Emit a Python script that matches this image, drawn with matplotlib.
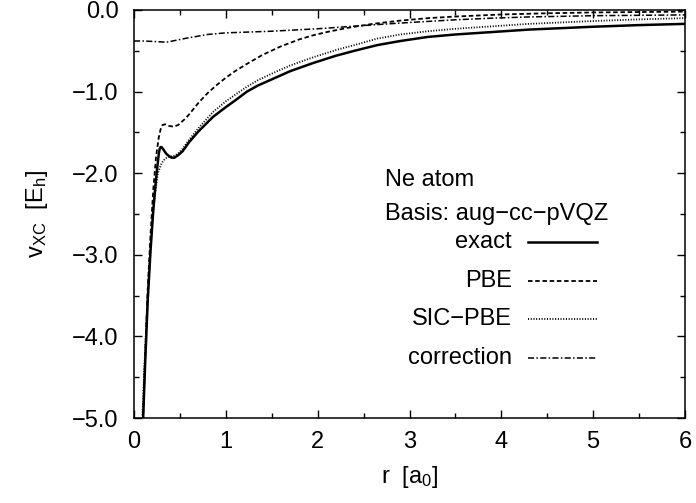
import matplotlib
matplotlib.use("Agg")
import matplotlib.pyplot as plt
from matplotlib.lines import Line2D
from matplotlib.ticker import MultipleLocator, FuncFormatter

plt.rcParams['font.family'] = ['Liberation Sans', 'DejaVu Sans']
plt.rcParams['mathtext.fontset'] = 'custom'
plt.rcParams['mathtext.rm'] = 'Liberation Sans'
plt.rcParams['mathtext.it'] = 'Liberation Sans'

# ==== Data ====
r_exact = [0.09, 0.12, 0.15, 0.18, 0.21, 0.24, 0.27, 0.28, 0.29, 0.30, 0.32, 0.35,
           0.38, 0.41, 0.44, 0.48, 0.53, 0.60, 0.70, 0.86, 1.00, 1.10, 1.23, 1.35,
           1.50, 1.70, 1.95, 2.20, 2.40, 2.65, 2.90, 3.20, 3.50, 3.90, 4.30, 4.70,
           5.00, 5.50, 6.00]
v_exact = [-5.30, -4.37, -3.55, -2.95, -2.45, -2.07, -1.76, -1.70, -1.68, -1.68, -1.71, -1.76,
           -1.79, -1.81, -1.81, -1.78, -1.73, -1.62, -1.49, -1.31, -1.19, -1.11, -1.00, -0.925,
           -0.85, -0.75, -0.65, -0.56, -0.50, -0.43, -0.38, -0.33, -0.30, -0.27, -0.24, -0.22,
           -0.205, -0.185, -0.17]

r_pbe = [0.09, 0.12, 0.15, 0.18, 0.21, 0.24, 0.27, 0.29, 0.31, 0.34, 0.38, 0.43,
         0.48, 0.55, 0.60, 0.70, 0.80, 0.90, 1.00, 1.10, 1.23, 1.40, 1.59, 1.80,
         1.95, 2.10, 2.32, 2.60, 2.90, 3.20, 3.50, 4.00, 4.50, 5.00, 6.00]
v_pbe = [-5.30, -4.30, -3.40, -2.75, -2.20, -1.80, -1.56, -1.46, -1.41, -1.40, -1.42, -1.43,
         -1.41, -1.34, -1.28, -1.14, -1.02, -0.92, -0.83, -0.75, -0.66, -0.55, -0.45, -0.36,
         -0.31, -0.27, -0.22, -0.17, -0.13, -0.10, -0.08, -0.055, -0.04, -0.03, -0.02]

r_sic = [0.08, 0.11, 0.14, 0.17, 0.20, 0.23, 0.26, 0.30, 0.34, 0.38, 0.43, 0.48,
         0.53, 0.60, 0.70, 0.86, 1.00, 1.10, 1.23, 1.35, 1.50, 1.70, 1.95, 2.20,
         2.40, 2.65, 2.90, 3.20, 3.50, 3.90, 4.30, 4.70, 5.00, 5.50, 6.00]
v_sic = [-5.30, -4.45, -3.70, -3.10, -2.60, -2.25, -2.00, -1.88, -1.82, -1.80, -1.79, -1.76,
         -1.70, -1.59, -1.45, -1.25, -1.12, -1.04, -0.94, -0.86, -0.78, -0.68, -0.58, -0.49,
         -0.43, -0.35, -0.30, -0.26, -0.23, -0.20, -0.17, -0.15, -0.135, -0.115, -0.10]

r_corr = [0.00, 0.10, 0.20, 0.28, 0.35, 0.42, 0.55, 0.65, 0.80, 1.00, 1.25, 1.50,
          1.75, 2.00, 2.25, 2.50, 2.70, 2.90, 3.20, 3.50, 3.90, 4.30, 5.00, 6.00]
v_corr = [-0.38, -0.38, -0.385, -0.39, -0.395, -0.38, -0.35, -0.33, -0.30, -0.28, -0.27, -0.26,
          -0.245, -0.23, -0.21, -0.19, -0.175, -0.16, -0.14, -0.12, -0.10, -0.085, -0.07, -0.06]

labels = ["exact", "PBE", "SIC\u2212PBE", "correction"]
system_text = ["Ne atom", "Basis: aug\u2212cc\u2212pVQZ"]

# ==== Styles ====
styles = [
    dict(color='k', lw=1.8, ls='-'),
    dict(color='k', lw=1.3, ls=(0, (2.5, 1.5))),
    dict(color='k', lw=1.3, ls=(0, (0.6, 0.9))),
    dict(color='k', lw=1.1, ls=(0, (4, 1.5, 1, 1.5))),
]
FS = 17

fig = plt.figure(figsize=(6.96, 5.03), dpi=100)
ax = fig.add_axes([134 / 696, 85 / 503, 551 / 696, 408 / 503])

series = [(r_exact, v_exact), (r_pbe, v_pbe), (r_sic, v_sic), (r_corr, v_corr)]
for (rr, vv), st in zip(series, styles):
    ax.plot(rr, vv, **st)

ax.set_xlim(0, 6)
ax.set_ylim(-5, 0)
ax.xaxis.set_major_locator(MultipleLocator(1))
ax.xaxis.set_minor_locator(MultipleLocator(0.5))
ax.yaxis.set_major_locator(MultipleLocator(1))
ax.yaxis.set_minor_locator(MultipleLocator(0.5))
ax.xaxis.set_major_formatter(FuncFormatter(lambda v, p: f"{v:.0f}"))
ax.yaxis.set_major_formatter(FuncFormatter(lambda v, p: f"{v:.1f}".replace('-', '\u2212')))
ax.tick_params(which='both', direction='in', top=True, right=True, labelsize=FS, width=1)
ax.tick_params(which='major', length=6)
ax.tick_params(which='minor', length=3.5)
ax.tick_params(axis='x', which='major', pad=9)
ax.tick_params(axis='y', which='major', pad=11)
for s in ax.spines.values():
    s.set_linewidth(1.1)

ax.set_xlabel(r"r  [a$_{\mathrm{0}}$]", fontsize=FS, labelpad=8)
ax.set_ylabel(r"v$_{\mathrm{XC}}$  [E$_{\mathrm{h}}$]", fontsize=FS, labelpad=16)

# annotation
ax.text(0.4555, 0.583, system_text[0], transform=ax.transAxes, fontsize=FS, va='center', ha='left')
ax.text(0.4555, 0.500, system_text[1], transform=ax.transAxes, fontsize=FS, va='center', ha='left')

# gnuplot-style key: label right-aligned, sample to the right
rows = [0.432, 0.336, 0.243, 0.148]
for lab, st, yy in zip(labels, styles, rows):
    ax.text(0.686, yy, lab, transform=ax.transAxes, fontsize=FS, ha='right', va='center')
    ax.add_line(Line2D([0.7145, 0.840], [yy, yy], transform=ax.transAxes, **st))

fig.savefig("out.png", dpi=100)
